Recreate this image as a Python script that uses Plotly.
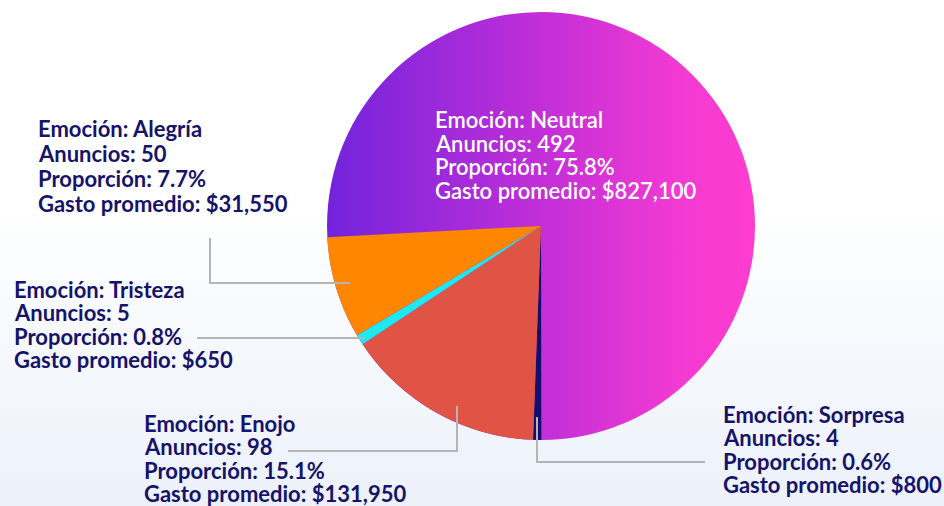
import plotly.graph_objects as go

# ---- data ----
emociones = ["Neutral", "Sorpresa", "Enojo", "Tristeza", "Alegría"]
anuncios = [492, 4, 98, 5, 50]
gasto_promedio = [827100, 800, 131950, 650, 31550]

# ---- styles ----
colores = ["rgba(0,0,0,0)", "#130e6b", "#df5444", "#1ce9f1", "#ff8600"]
W, H = 944, 506
NAVY = "#16136b"
LINE_GREY = "#b5b5b8"

# pie box in pixels (left, top, size)
PIE_L, PIE_T, PIE_S = 327, 12, 428
dom_x = [PIE_L / W, (PIE_L + PIE_S) / W]
dom_y = [1 - (PIE_T + PIE_S) / H, 1 - PIE_T / H]

# label layout: left x, first baseline y, line spacing, colour, weight (pixels)
label_layout = {
    "Neutral": (434, 128, 23.6, "white", 600),
    "Alegría": (37, 137, 25.0, NAVY, "bold"),
    "Tristeza": (13, 298, 23.4, NAVY, "bold"),
    "Enojo": (143, 432, 23.4, NAVY, "bold"),
    "Sorpresa": (722, 423, 23.4, NAVY, "bold"),
}
# leader lines (pixel paths)
leader_paths = [
    [(210, 238), (210, 283), (350, 283)],   # Alegría
    [(197, 338), (365, 338)],               # Tristeza
    [(288, 451), (457, 451), (457, 406)],   # Enojo
    [(537, 417), (537, 462), (705, 462)],   # Sorpresa
]

bg_svg = (
    "data:image/svg+xml;utf8,"
    "<svg xmlns='http://www.w3.org/2000/svg' width='100' height='100' viewBox='0 0 100 100' preserveAspectRatio='none'>"
    "<defs><linearGradient id='g' x1='0' y1='0' x2='0' y2='1'>"
    "<stop offset='0' stop-color='%23ffffff'/><stop offset='0.4' stop-color='%23ffffff'/>"
    "<stop offset='1' stop-color='%23ecf1fa'/></linearGradient></defs>"
    "<rect width='100' height='100' fill='url(%23g)'/></svg>"
)
pie_svg = (
    "data:image/svg+xml;utf8,"
    "<svg xmlns='http://www.w3.org/2000/svg' width='200' height='200' viewBox='0 0 200 200' preserveAspectRatio='none'>"
    "<defs><linearGradient id='p' x1='0' y1='0' x2='1' y2='0'>"
    "<stop offset='0' stop-color='%237223dc'/><stop offset='0.5' stop-color='%23c22fd8'/>"
    "<stop offset='0.82' stop-color='%23f23ad2'/><stop offset='1' stop-color='%23ff3ccf'/></linearGradient></defs>"
    "<circle cx='100' cy='100' r='100' fill='url(%23p)'/></svg>"
)

fig = go.Figure(
    go.Pie(
        labels=emociones,
        values=anuncios,
        customdata=gasto_promedio,
        sort=False,
        direction="clockwise",
        rotation=267,
        automargin=False,
        marker=dict(colors=colores, line=dict(width=0)),
        textinfo="none",
        hoverinfo="skip",
        showlegend=False,
        domain=dict(x=dom_x, y=dom_y),
    )
)

total = sum(anuncios)
annotations = []
for emo, n, g in zip(emociones, anuncios, gasto_promedio):
    lx, by, sp, col, wt = label_layout[emo]
    lines = [
        f"Emoción: {emo}",
        f"Anuncios: {n}",
        f"Proporción: {n / total:.1%}",
        f"Gasto promedio: ${g:,}",
    ]
    for i, t in enumerate(lines):
        base = by + i * sp
        annotations.append(dict(
            text=t, xref="paper", yref="paper",
            x=lx / W, y=1 - (base - 8.5) / H,
            xanchor="left", yanchor="middle", align="left",
            showarrow=False, borderpad=0,
            font=dict(family="Lato", size=22, color=col, weight=wt),
        ))

shapes = []
for pts in leader_paths:
    d = "M " + " L ".join(f"{x / W:.5f},{1 - y / H:.5f}" for x, y in pts)
    shapes.append(dict(type="path", path=d, xref="paper", yref="paper",
                       line=dict(color=LINE_GREY, width=2), layer="above"))

fig.update_layout(
    width=W,
    height=H,
    autosize=False,
    margin=dict(l=0, r=0, t=0, b=0, pad=0, autoexpand=False),
    paper_bgcolor="white",
    plot_bgcolor="white",
    annotations=annotations,
    shapes=shapes,
    images=[
        dict(source=bg_svg, xref="paper", yref="paper", x=0, y=1, sizex=1, sizey=1,
             xanchor="left", yanchor="top", sizing="stretch", layer="below"),
        dict(source=pie_svg, xref="paper", yref="paper", x=dom_x[0], y=dom_y[1],
             sizex=dom_x[1] - dom_x[0], sizey=dom_y[1] - dom_y[0],
             xanchor="left", yanchor="top", sizing="stretch", layer="below"),
    ],
)

fig.write_html("out.html", config={"responsive": False, "displayModeBar": False},
               post_script="document.body.style.margin='0';document.body.style.overflow='hidden';")
